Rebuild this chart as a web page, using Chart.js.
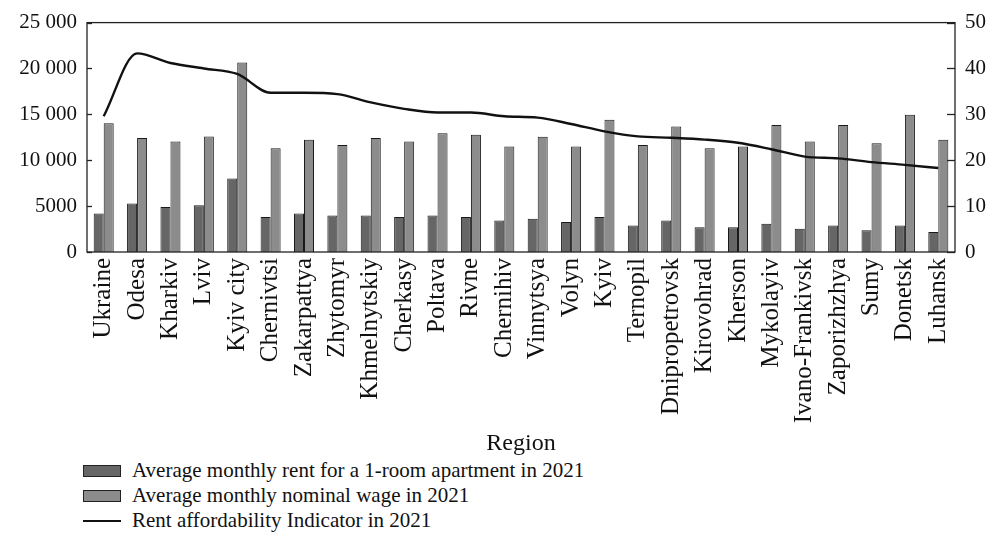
<!DOCTYPE html>
<html>
<head>
<meta charset="utf-8">
<script src="https://cdn.jsdelivr.net/npm/chart.js@4"></script>
<style>
  html, body { margin: 0; padding: 0; background: #fff; }
  #wrap { position: relative; width: 994px; height: 544px; font-family: "Liberation Serif", "DejaVu Serif", serif; }
  #zone { position: absolute; left: 0; top: 0; width: 994px; height: 458px; }
  #legende { position: absolute; left: 83px; top: 458px; font-size: 21px; color: #111; }
  .item { height: 25px; line-height: 25px; display: flex; align-items: center; }
  .boite { width: 36px; height: 10px; border: 1px solid #222; margin-right: 11px; }
  .trait { width: 38px; height: 2px; background: #111; margin-right: 11px; }
</style>
</head>
<body>
<div id="wrap">
  <div id="zone"><canvas id="graphique"></canvas></div>
  <div id="legende"></div>
</div>
<script>
// Données
const regions = ["Ukraine", "Odesa", "Kharkiv", "Lviv", "Kyiv city", "Chernivtsi", "Zakarpattya",
  "Zhytomyr", "Khmelnytskiy", "Cherkasy", "Poltava", "Rivne", "Chernihiv", "Vinnytsya", "Volyn",
  "Kyiv", "Ternopil", "Dnipropetrovsk", "Kirovohrad", "Kherson", "Mykolayiv", "Ivano-Frankivsk",
  "Zaporizhzhya", "Sumy", "Donetsk", "Luhansk"];

const loyers = [4200, 5280, 4900, 5100, 8020, 3820, 4200, 3990, 3990, 3820, 3990, 3820, 3440,
  3610, 3260, 3820, 2880, 3440, 2710, 2710, 3090, 2530, 2880, 2360, 2880, 2190];

const salaires = [14030, 12430, 12050, 12600, 20660, 11320, 12220, 11670, 12430, 12050, 12950,
  12780, 11490, 12570, 11490, 14410, 11670, 13680, 11320, 11490, 13850, 12050, 13850, 11840,
  14970, 12220];

const indicateur = [29.6, 43.3, 41.2, 40.0, 38.8, 34.7, 34.7, 34.4, 32.6, 31.2, 30.4, 30.4, 29.6,
  29.3, 27.9, 26.3, 25.2, 24.9, 24.5, 23.8, 22.4, 20.8, 20.4, 19.6, 19.0, 18.3];

const ticksGauche = [0, 5000, 10000, 15000, 20000, 25000];
const ticksDroite = [0, 10, 20, 30, 40, 50];

const libelles = [
  "Average monthly rent for a 1-room apartment in 2021",
  "Average monthly nominal wage in 2021",
  "Rent affordability Indicator in 2021"
];

const famille = '"Liberation Serif", "DejaVu Serif", serif';
const policeAxes = { family: famille, size: 21 };
const policeRegions = { family: famille, size: 25 };

// Cadre du graphique et graduations tournées vers l'intérieur
const cadre = {
  id: "cadre",
  afterDraw(chart) {
    const { ctx, chartArea: a, scales } = chart;
    ctx.save();
    ctx.strokeStyle = "#222";
    ctx.lineWidth = 1.3;
    ctx.strokeRect(a.left, a.top, a.right - a.left, a.bottom - a.top);
    ticksGauche.forEach(t => {
      const y = Math.round(scales.y.getPixelForValue(t)) + 0.5;
      ctx.beginPath(); ctx.moveTo(a.left, y); ctx.lineTo(a.left + 5, y); ctx.stroke();
    });
    ticksDroite.forEach(t => {
      const y = Math.round(scales.y2.getPixelForValue(t)) + 0.5;
      ctx.beginPath(); ctx.moveTo(a.right - 8, y); ctx.lineTo(a.right, y); ctx.stroke();
    });
    ctx.restore();
  }
};

function formatMilliers(v) {
  if (v < 10000) return String(v);
  return String(v).replace(/\B(?=(\d{3})+(?!\d))/g, " ");
}

new Chart(document.getElementById("graphique"), {
  type: "bar",
  data: {
    labels: regions,
    datasets: [
      {
        type: "line",
        label: libelles[2],
        data: indicateur,
        yAxisID: "y2",
        borderColor: "#111",
        borderWidth: 2.4,
        pointRadius: 0,
        cubicInterpolationMode: "monotone",
        fill: false,
        order: 0
      },
      {
        label: libelles[0],
        data: loyers,
        yAxisID: "y",
        backgroundColor: "#666666",
        borderColor: "#1a1a1a",
        borderWidth: 1,
        categoryPercentage: 0.6,
        barPercentage: 1.0,
        order: 1
      },
      {
        label: libelles[1],
        data: salaires,
        yAxisID: "y",
        backgroundColor: "#8c8c8c",
        borderColor: "#1a1a1a",
        borderWidth: 1,
        categoryPercentage: 0.6,
        barPercentage: 1.0,
        order: 1
      }
    ]
  },
  options: {
    responsive: true,
    maintainAspectRatio: false,
    animation: false,
    layout: { padding: { top: 12, left: 0, right: 0, bottom: 0 } },
    plugins: {
      legend: { display: false },
      tooltip: { enabled: false }
    },
    scales: {
      x: {
        grid: { display: false, drawTicks: false },
        border: { display: false },
        ticks: {
          color: "#111",
          font: policeRegions,
          maxRotation: 90,
          minRotation: 90,
          autoSkip: false,
          padding: 6
        },
        title: {
          display: true,
          text: "Region",
          color: "#111",
          font: { family: famille, size: 24 },
          padding: { top: 4, bottom: 0 }
        },
        afterFit: scale => { scale.height = 206; }
      },
      y: {
        position: "left",
        min: 0,
        max: 25000,
        grid: { display: false, drawTicks: false },
        border: { display: false },
        afterBuildTicks: scale => { scale.ticks = ticksGauche.map(v => ({ value: v })); },
        ticks: {
          color: "#111",
          font: policeAxes,
          padding: 10,
          callback: v => formatMilliers(v)
        },
        afterFit: scale => { scale.width = 87; }
      },
      y2: {
        position: "right",
        min: 0,
        max: 50,
        grid: { display: false, drawTicks: false },
        border: { display: false },
        afterBuildTicks: scale => { scale.ticks = ticksDroite.map(v => ({ value: v })); },
        ticks: { color: "#111", font: policeAxes, padding: 10 },
        afterFit: scale => { scale.width = 39; }
      }
    }
  },
  plugins: [cadre]
});

// Légende verticale en HTML
const legende = document.getElementById("legende");
const styles = ["boite:#666666", "boite:#8c8c8c", "trait"];
libelles.forEach((texte, i) => {
  const ligne = document.createElement("div");
  ligne.className = "item";
  const marque = document.createElement("span");
  const [cls, coul] = styles[i].split(":");
  marque.className = cls;
  if (coul) marque.style.background = coul;
  ligne.appendChild(marque);
  ligne.appendChild(document.createTextNode(texte));
  legende.appendChild(ligne);
});
</script>
</body>
</html>
